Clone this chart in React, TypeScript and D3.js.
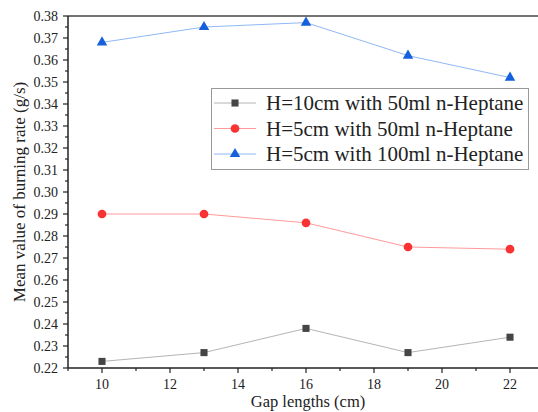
import React, { useRef, useEffect } from "react";
import * as d3 from "d3";

const gaps = [10, 13, 16, 19, 22];
const h10ml50 = [0.223, 0.227, 0.238, 0.227, 0.234];
const h5ml50 = [0.29, 0.29, 0.286, 0.275, 0.274];
const h5ml100 = [0.368, 0.375, 0.377, 0.362, 0.352];
const seriesNames = [
  "H=10cm with 50ml n-Heptane",
  "H=5cm with 50ml n-Heptane",
  "H=5cm with 100ml n-Heptane",
];
const xTicks = [10, 12, 14, 16, 18, 20, 22];
const yTicks = [0.22, 0.23, 0.24, 0.25, 0.26, 0.27, 0.28, 0.29, 0.3, 0.31, 0.32, 0.33, 0.34, 0.35, 0.36, 0.37, 0.38];

const W = 538;
const H = 412;
const FONT = "Liberation Serif, DejaVu Serif, serif";

const App = () => {
  const svgRef = useRef<SVGSVGElement>(null);

  useEffect(() => {
    const svg = d3.select(svgRef.current);
    svg.selectAll("*").remove();

    const left = 68, top = 16, bottom = 368;
    // right side of the frame falls off the picture
    const x = d3.scaleLinear().domain([9, 23]).range([left, left + 14 * 34]);
    const y = d3.scaleLinear().domain([0.22, 0.38]).range([bottom, top]);

    const series = [
      { name: seriesNames[0], values: h10ml50, line: "#b4b4b4", fill: "#454545", shape: d3.symbolSquare, size: 50 },
      { name: seriesNames[1], values: h5ml50, line: "#ff9a9a", fill: "#f93333", shape: d3.symbolCircle, size: 60 },
      { name: seriesNames[2], values: h5ml100, line: "#8fb8f5", fill: "#1560dc", shape: d3.symbolTriangle, size: 48 },
    ];

    // frame top line
    svg.append("line")
      .attr("x1", left).attr("x2", W).attr("y1", top).attr("y2", top)
      .attr("stroke", "#444").attr("stroke-width", 1.5);

    // x axis
    const xAxis = svg.append("g").attr("transform", `translate(0,${bottom})`);
    xAxis.append("line").attr("x1", left).attr("x2", W).attr("stroke", "#222").attr("stroke-width", 1.5);
    d3.range(9, 24).forEach((v) => {
      const major = xTicks.includes(v);
      xAxis.append("line")
        .attr("x1", x(v)).attr("x2", x(v)).attr("y1", 0).attr("y2", major ? 5 : 3)
        .attr("stroke", "#222").attr("stroke-width", 1.2);
    });
    xAxis.selectAll("text.tick").data(xTicks).enter().append("text")
      .attr("x", (d) => x(d)).attr("y", 21)
      .attr("text-anchor", "middle")
      .style("font-family", FONT).style("font-size", "14px").attr("fill", "#222")
      .text((d) => d);

    // y axis
    const yAxis = svg.append("g").attr("transform", `translate(${left},0)`);
    yAxis.append("line").attr("y1", top).attr("y2", bottom).attr("stroke", "#222").attr("stroke-width", 1.5);
    d3.range(0, 33).forEach((i) => {
      const v = 0.22 + i * 0.005;
      const major = i % 2 === 0;
      yAxis.append("line")
        .attr("x1", 0).attr("x2", major ? -5 : -3).attr("y1", y(v)).attr("y2", y(v))
        .attr("stroke", "#222").attr("stroke-width", 1.2);
    });
    yAxis.selectAll("text.tick").data(yTicks).enter().append("text")
      .attr("x", -10).attr("y", (d) => y(d)).attr("dy", "0.35em")
      .attr("text-anchor", "end")
      .style("font-family", FONT).style("font-size", "14px").attr("fill", "#222")
      .text((d) => d.toFixed(2));

    // titles
    svg.append("text")
      .attr("x", 308).attr("y", 407).attr("text-anchor", "middle")
      .style("font-family", FONT).style("font-size", "16.5px").attr("fill", "#222")
      .text("Gap lengths (cm)");
    svg.append("text")
      .attr("transform", `translate(25,${192}) rotate(-90)`).attr("text-anchor", "middle")
      .style("font-family", FONT).style("font-size", "17px").attr("fill", "#222")
      .text("Mean value of burning rate (g/s)");

    // series
    const lineGen = d3.line<number>().x((_, i) => x(gaps[i])).y((d) => y(d));
    series.forEach((s) => {
      svg.append("path")
        .attr("d", lineGen(s.values))
        .attr("fill", "none").attr("stroke", s.line).attr("stroke-width", 1);
      svg.selectAll(null).data(s.values).enter().append("path")
        .attr("d", d3.symbol().type(s.shape).size(s.size)())
        .attr("transform", (d, i) => `translate(${x(gaps[i])},${y(d)})`)
        .attr("fill", s.fill);
    });

    // legend
    const lg = svg.append("g");
    lg.append("rect")
      .attr("x", 211.5).attr("y", 88.5).attr("width", 317).attr("height", 81)
      .attr("fill", "#fff").attr("stroke", "#999").attr("stroke-width", 1);
    series.forEach((s, i) => {
      const cy = 103 + i * 25.5;
      lg.append("line")
        .attr("x1", 214).attr("x2", 256).attr("y1", cy).attr("y2", cy)
        .attr("stroke", s.line).attr("stroke-width", 1);
      lg.append("path")
        .attr("d", d3.symbol().type(s.shape).size(s.size)())
        .attr("transform", `translate(235,${cy})`)
        .attr("fill", s.fill);
      lg.append("text")
        .attr("x", 266).attr("y", cy).attr("dy", "0.35em")
        .style("font-family", FONT).style("font-size", "21px").attr("fill", "#222")
        .text(s.name);
    });
  }, []);

  return (
    <svg
      ref={svgRef}
      width={W}
      height={H}
      style={{ position: "absolute", left: 0, top: 0, background: "#fff" }}
    />
  );
};

export default App;
